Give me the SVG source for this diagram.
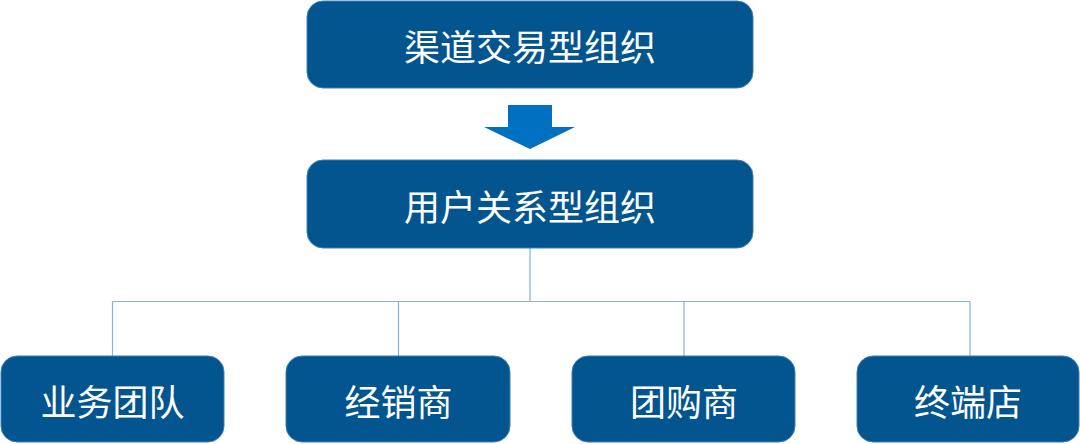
<svg xmlns="http://www.w3.org/2000/svg" width="1080" height="444" viewBox="0 0 1080 444">
<style>
.box{fill:#02558F;stroke:#3F7FB5;stroke-width:1}
.t{fill:#FFFFFF;font-family:"Noto Sans CJK SC",sans-serif;font-size:36px;text-anchor:middle;dominant-baseline:central}
.ln{fill:none;stroke:#7FB3E0;stroke-width:1.2}
</style>
<rect width="1080" height="444" fill="#FFFFFF"/>
<g id="connectors">
<polygon points="508,105 552,105 552,127 575,127 530,149 484,127 508,127" fill="#0070C0"/>
<path class="ln" d="M530,248 V301.5 M112.5,301.5 H970 M112.5,301.5 V356 M398.5,301.5 V356 M684,301.5 V356 M970,301.5 V356"/>
</g>
<g id="n1"><rect class="box" x="307" y="1" width="446" height="87" rx="16"/><text class="t" x="530" y="45">渠道交易型组织</text></g>
<g id="n2"><rect class="box" x="307" y="160" width="446" height="88" rx="16"/><text class="t" x="530" y="205">用户关系型组织</text></g>
<g id="n3"><rect class="box" x="1" y="356" width="223" height="86" rx="16"/><text class="t" x="112.5" y="400">业务团队</text></g>
<g id="n4"><rect class="box" x="286" y="356" width="224" height="86" rx="16"/><text class="t" x="398.5" y="400">经销商</text></g>
<g id="n5"><rect class="box" x="572" y="356" width="223" height="86" rx="16"/><text class="t" x="684" y="400">团购商</text></g>
<g id="n6"><rect class="box" x="857" y="356" width="222" height="86" rx="16"/><text class="t" x="968" y="400">终端店</text></g>
</svg>
